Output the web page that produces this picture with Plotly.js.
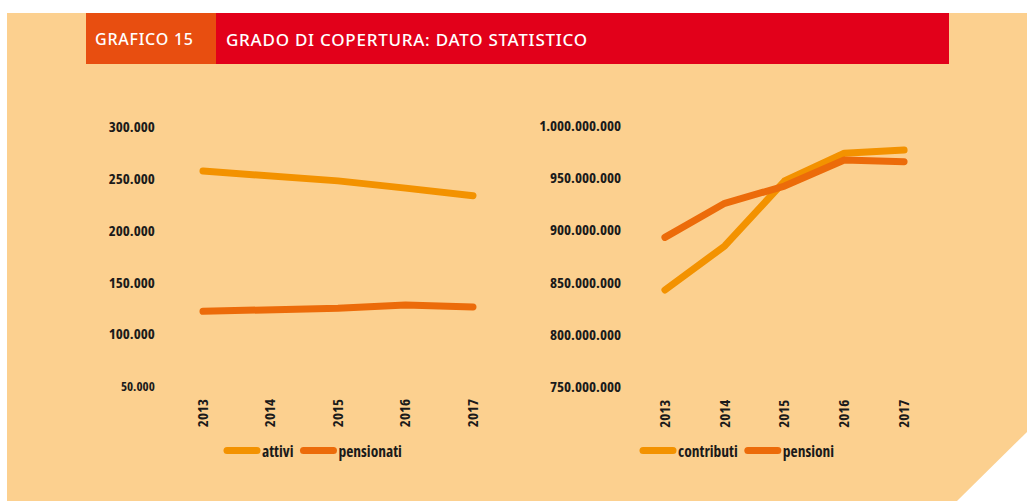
<!DOCTYPE html>
<html>
<head>
<meta charset="utf-8">
<script src="https://cdn.plot.ly/plotly-3.0.1.min.js"></script>
<style>
html,body{margin:0;padding:0;background:#fff;}
#chart{width:1027px;height:501px;}
.js-line{stroke-linecap:round;stroke-linejoin:round;}
svg text{font-stretch:condensed !important;}
svg text.annotation-text{font-stretch:normal !important;letter-spacing:0.75px;}
</style>
</head>
<body>
<div id="chart"></div>
<script>
// ---- data ----
var years = ['2013', '2014', '2015', '2016', '2017'];
var attivi = [257500, 253500, 248000, 241000, 233700];
var pensionati = [122100, 123400, 125000, 128200, 126300];
var contributi = [842600000, 884800000, 947000000, 973600000, 976700000];
var pensioni = [893000000, 925700000, 942200000, 967100000, 965500000];
var leftTickVals = [50000, 100000, 150000, 200000, 250000, 300000];
var leftTickText = ['<span style="font-size:13px">50.000</span>', '100.000', '150.000', '200.000', '250.000', '300.000'];
var rightTickVals = [750000000, 800000000, 850000000, 900000000, 950000000, 1000000000];
var rightTickText = ['750.000.000', '800.000.000', '850.000.000', '900.000.000', '950.000.000', '1.000.000.000'];
var headerLabel = 'GRAFICO 15';
var headerTitle = 'GRADO DI COPERTURA: DATO STATISTICO';

// ---- styles ----
var W = 1027, H = 501;
function px(x){return x / W;}
function py(y){return 1 - y / H;}
var cA = '#F39200', cB = '#EC6B0A';
var peach = '#FCD08F';
var tickFont = {family: '"Open Sans", sans-serif', size: 15, color: '#1a1a1a', weight: 700};
var legFont = {family: '"Open Sans", sans-serif', size: 15.5, color: '#1a1a1a', weight: 700};

var traces = [
  {x: years, y: attivi, name: 'attivi', type: 'scatter', mode: 'lines', line: {color: cA, width: 7}, xaxis: 'x', yaxis: 'y', legend: 'legend'},
  {x: years, y: pensionati, name: 'pensionati', type: 'scatter', mode: 'lines', line: {color: cB, width: 7}, xaxis: 'x', yaxis: 'y', legend: 'legend'},
  {x: years, y: contributi, name: 'contributi', type: 'scatter', mode: 'lines', line: {color: cA, width: 7}, xaxis: 'x2', yaxis: 'y2', legend: 'legend2'},
  {x: years, y: pensioni, name: 'pensioni', type: 'scatter', mode: 'lines', line: {color: cB, width: 7}, xaxis: 'x2', yaxis: 'y2', legend: 'legend2'}
];

function xax(d0, d1, anchor){
  return {domain: [px(d0), px(d1)], anchor: anchor, type: 'category', range: [-0.3, 4.3],
    showgrid: false, zeroline: false, showline: false, tickangle: -90,
    ticks: 'outside', ticklen: 6, tickcolor: 'rgba(0,0,0,0)', tickfont: tickFont, fixedrange: true};
}
function yax(t, b, anchor, vals, text, range, len){
  return {domain: [py(b), py(t)], anchor: anchor, range: range, tickvals: vals, ticktext: text,
    showgrid: false, zeroline: false, showline: false,
    ticks: 'outside', ticklen: len, tickcolor: 'rgba(0,0,0,0)', tickfont: tickFont, fixedrange: true};
}

var legendBase = {orientation: 'h', xanchor: 'left', yanchor: 'middle', bgcolor: 'rgba(0,0,0,0)',
  font: legFont, itemwidth: 30, tracegroupgap: 0};

var layout = {
  width: W, height: H,
  margin: {l: 0, r: 0, t: 0, b: 0},
  paper_bgcolor: '#ffffff', plot_bgcolor: 'rgba(0,0,0,0)',
  showlegend: true,
  xaxis: xax(182.75, 493.25, 'y'),
  yaxis: yax(127, 386, 'x', leftTickVals, leftTickText, [50000, 300000], 24),
  xaxis2: xax(647, 922, 'y2'),
  yaxis2: yax(125.7, 386.7, 'x2', rightTickVals, rightTickText, [750000000, 1000000000], 22),
  legend: Object.assign({}, legendBase, {x: px(222), y: py(451)}),
  legend2: Object.assign({}, legendBase, {x: px(638), y: py(451)}),
  shapes: [
    {type: 'path', xref: 'paper', yref: 'paper', layer: 'below', line: {width: 0}, fillcolor: peach,
     path: 'M' + px(7) + ',' + py(13) + ' L' + px(1027) + ',' + py(13) + ' L' + px(1027) + ',' + py(432) +
           ' L' + px(957) + ',' + py(501) + ' L' + px(7) + ',' + py(501) + ' Z'},
    {type: 'rect', xref: 'paper', yref: 'paper', layer: 'below', line: {width: 0}, fillcolor: '#E84E10',
     x0: px(86), x1: px(216), y0: py(64), y1: py(13)},
    {type: 'rect', xref: 'paper', yref: 'paper', layer: 'below', line: {width: 0}, fillcolor: '#E2001A',
     x0: px(216), x1: px(949), y0: py(64), y1: py(13)}
  ],
  annotations: [
    {text: headerLabel, xref: 'paper', yref: 'paper', x: px(93), y: py(39), xanchor: 'left', yanchor: 'middle',
     showarrow: false, font: {family: '"Noto Sans", sans-serif', size: 16, color: '#ffffff', weight: 500}},
    {text: headerTitle, xref: 'paper', yref: 'paper', x: px(224), y: py(39), xanchor: 'left', yanchor: 'middle',
     showarrow: false, font: {family: '"Noto Sans", sans-serif', size: 17, color: '#ffffff', weight: 500}}
  ]
};

Plotly.newPlot('chart', traces, layout, {displayModeBar: false, staticPlot: true});
</script>
</body>
</html>
